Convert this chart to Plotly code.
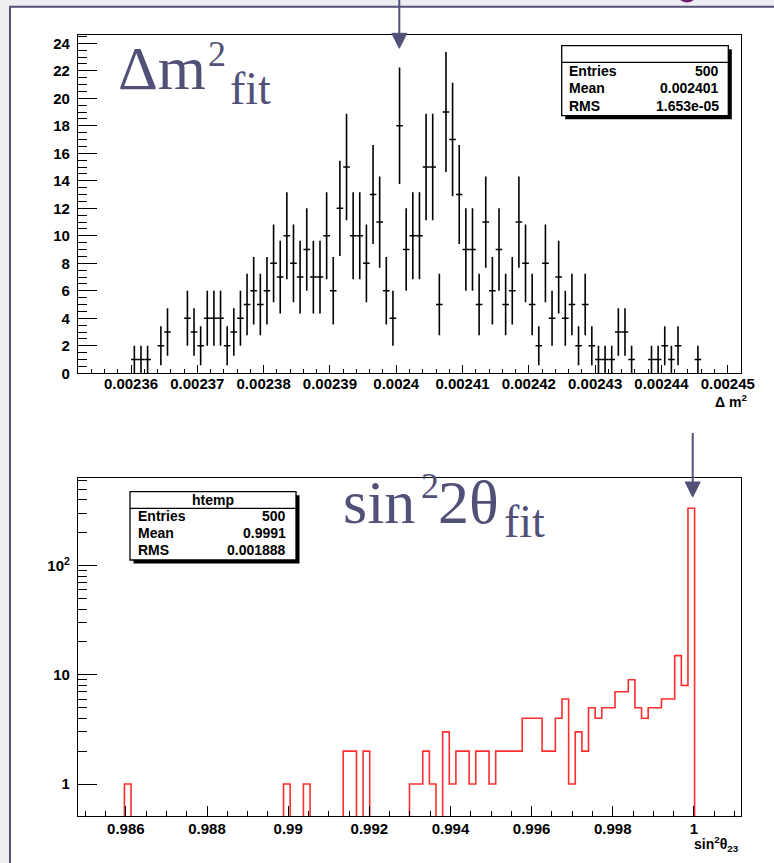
import numpy as np
import plotly.graph_objects as go

W, H = 774, 863

# ---------------- data: top histogram (Delta m^2 fit) ----------------
dm2_min, dm2_max, dm2_nbins = 0.002352, 0.002452, 100
dm2_counts = [0, 0, 0, 0, 0, 0, 0, 0, 1, 1,
              1, 0, 2, 3, 0, 0, 4, 3, 2, 4,
              4, 4, 2, 3, 4, 5, 6, 5, 6, 8,
              7, 10, 8, 7, 9, 7, 7, 10, 6, 12,
              15, 10, 10, 8, 13, 11, 6, 4, 18, 9,
              10, 10, 15, 15, 5, 19, 17, 13, 9, 9,
              5, 11, 6, 9, 5, 6, 11, 8, 5, 2,
              8, 4, 7, 4, 5, 2, 5, 2, 1, 1,
              1, 3, 3, 1, 0, 0, 1, 1, 2, 1,
              2, 0, 0, 1, 0, 0, 0, 0, 0, 0]
dm2_xtick_vals = [0.00236, 0.00237, 0.00238, 0.00239, 0.0024,
                  0.00241, 0.00242, 0.00243, 0.00244, 0.00245]
dm2_xtick_text = ["0.00236", "0.00237", "0.00238", "0.00239", "0.0024",
                  "0.00241", "0.00242", "0.00243", "0.00244", "0.00245"]
dm2_ytick_vals = [0, 2, 4, 6, 8, 10, 12, 14, 16, 18, 20, 22, 24]
dm2_stats = [("Entries", "500"), ("Mean", "0.002401"), ("RMS", "1.653e-05")]

# ---------------- data: bottom histogram (sin^2 2theta fit) ----------------
s2_min, s2_max, s2_nbins = 0.98482, 1.00116, 100
s2_counts = [0, 0, 0, 0, 0, 0, 0, 1, 0, 0,
             0, 0, 0, 0, 0, 0, 0, 0, 0, 0,
             0, 0, 0, 0, 0, 0, 0, 0, 0, 0,
             0, 1, 0, 0, 1, 0, 0, 0, 0, 0,
             2, 2, 0, 2, 0, 0, 0, 0, 0, 0,
             1, 1, 2, 1, 0, 3, 1, 2, 2, 1,
             2, 2, 1, 2, 2, 2, 2, 4, 4, 4,
             2, 2, 4, 6, 1, 3, 2, 5, 4, 5,
             5, 7, 7, 9, 5, 4, 5, 5, 6, 6,
             15, 8, 336, 0, 0, 0, 0, 0, 0, 0]
s2_xtick_vals = [0.986, 0.988, 0.99, 0.992, 0.994, 0.996, 0.998, 1.0]
s2_xtick_text = ["0.986", "0.988", "0.99", "0.992", "0.994", "0.996", "0.998", "1"]
s2_ytick_vals = [1, 10, 100]
s2_ytick_text = ["1", "10", "10<sup>2</sup>"]
s2_yminor_vals = [2, 3, 4, 5, 6, 7, 8, 9, 20, 30, 40, 50, 60, 70, 80, 90,
                  200, 300, 400, 500, 600]
s2_stats = [("Entries", "500"), ("Mean", "0.9991"), ("RMS", "0.001888")]

# ---------------- helpers ----------------
def px(x):
    return x / W

def py(y):
    return 1 - y / H

SLATE = "#515178"
TICKFONT = dict(family="Liberation Sans", size=15, color="black", weight="bold")

fig = go.Figure()

# top histogram: error bars (E0 style)
c1 = np.array(dm2_counts, dtype=float)
bw1 = (dm2_max - dm2_min) / dm2_nbins
centers1 = dm2_min + (np.arange(dm2_nbins) + 0.5) * bw1
m = c1 > 0
fig.add_trace(go.Scatter(
    x=centers1[m], y=c1[m], mode="markers",
    marker=dict(size=1, color="black"),
    error_y=dict(type="data", array=np.sqrt(c1[m]), width=0, thickness=1.6, color="black"),
    error_x=dict(type="data", array=np.full(m.sum(), bw1 / 2), width=0, thickness=1.6, color="black"),
    xaxis="x", yaxis="y", showlegend=False, hoverinfo="skip"))

# bottom histogram: red step outline
c2 = np.array(s2_counts, dtype=float)
bw2 = (s2_max - s2_min) / s2_nbins
edges2 = s2_min + np.arange(s2_nbins + 1) * bw2
floor = 0.1
c2p = np.where(c2 > 0, c2, floor)
xs = np.concatenate([[edges2[0]], edges2[:-1], [edges2[-1]], [edges2[-1]]])
ys = np.concatenate([[floor], c2p, [c2p[-1]], [floor]])
fig.add_trace(go.Scatter(
    x=xs, y=ys, mode="lines", line=dict(color="#ff2d2d", width=1.6, shape="hv"),
    xaxis="x2", yaxis="y2", showlegend=False, hoverinfo="skip"))

axis_common = dict(showline=True, linecolor="black", linewidth=1.2, mirror=True,
                   showgrid=False, zeroline=False, ticks="inside", tickcolor="black",
                   tickwidth=1.2, tickfont=TICKFONT, automargin=False)

fig.update_layout(
    width=W, height=H, autosize=False, showlegend=False,
    margin=dict(l=0, r=0, t=0, b=0, pad=0, autoexpand=False),
    paper_bgcolor="#eeeef0", plot_bgcolor="white",
    xaxis=dict(domain=[px(78), px(741)], range=[dm2_min, dm2_max], anchor="y",
               tickmode="array", tickvals=dm2_xtick_vals, ticktext=dm2_xtick_text,
               ticklen=8, ticklabelstandoff=-3,
               minor=dict(ticks="inside", ticklen=4, dtick=2e-6, tick0=0.00236,
                          tickcolor="black", tickwidth=1.2),
               **axis_common),
    yaxis=dict(domain=[py(373.3), py(35)], range=[0, 24.6], anchor="x",
               tickmode="array", tickvals=dm2_ytick_vals, ticklen=19,
               ticklabelstandoff=4,
               minor=dict(ticks="inside", ticklen=9, dtick=0.5, tick0=0,
                          tickcolor="black", tickwidth=1.2),
               **axis_common),
    xaxis2=dict(domain=[px(78), px(741)], range=[s2_min, s2_max], anchor="y2",
                tickmode="array", tickvals=s2_xtick_vals, ticktext=s2_xtick_text,
                ticklen=10, ticklabelstandoff=-1,
                minor=dict(ticks="inside", ticklen=5, dtick=0.0005, tick0=0.986,
                           tickcolor="black", tickwidth=1.2),
                **axis_common),
    yaxis2=dict(domain=[py(816), py(478.3)], type="log", range=[-0.293, 2.80],
                anchor="x2", tickmode="array", tickvals=s2_ytick_vals,
                ticktext=s2_ytick_text, ticklen=19, ticklabelstandoff=4,
                minor=dict(ticks="inside", ticklen=9, tickmode="array",
                           tickvals=s2_yminor_vals, tickcolor="black", tickwidth=1.2),
                **axis_common),
)

shapes = []
annots = []

# slide background: white page with slate border on top and left
shapes.append(dict(type="rect", xref="paper", yref="paper", layer="below",
                   x0=px(10), x1=px(774), y0=py(863), y1=py(7),
                   fillcolor="white", line=dict(width=0)))
shapes.append(dict(type="line", xref="paper", yref="paper",
                   x0=px(9), x1=px(774), y0=py(6.8), y1=py(6.8),
                   line=dict(color=SLATE, width=2)))
shapes.append(dict(type="line", xref="paper", yref="paper",
                   x0=px(10), x1=px(10), y0=py(6), y1=py(863),
                   line=dict(color=SLATE, width=2)))
# bit of purple title glyph peeking at the top
shapes.append(dict(type="circle", xref="paper", yref="paper",
                   x0=px(679), x1=px(695), y0=py(2.5), y1=py(-9),
                   fillcolor="#6e1a6e", line=dict(width=0)))

# arrows
def arrow(x, y0, y1, half=7.5, head=15):
    shapes.append(dict(type="line", xref="paper", yref="paper",
                       x0=px(x), x1=px(x), y0=py(y0), y1=py(y1 - head + 2),
                       line=dict(color=SLATE, width=2)))
    path = "M {} {} L {} {} L {} {} Z".format(px(x - half), py(y1 - head),
                                             px(x + half), py(y1 - head),
                                             px(x), py(y1))
    shapes.append(dict(type="path", xref="paper", yref="paper", path=path,
                       fillcolor=SLATE, line=dict(color=SLATE, width=1)))

arrow(399.3, 0, 48.3)
arrow(692.7, 433, 497)

# stats boxes
def stats_box(x0, y0, x1, y1, ysep, title, rows, row_ys, tx_l, tx_r):
    sh = 3.5
    shapes.append(dict(type="rect", xref="paper", yref="paper",
                       x0=px(x0 + sh), x1=px(x1 + sh), y0=py(y1 + sh), y1=py(y0 + sh),
                       fillcolor="black", line=dict(width=0)))
    shapes.append(dict(type="rect", xref="paper", yref="paper",
                       x0=px(x0), x1=px(x1), y0=py(y1), y1=py(y0),
                       fillcolor="white", line=dict(color="black", width=1.3)))
    shapes.append(dict(type="line", xref="paper", yref="paper",
                       x0=px(x0), x1=px(x1), y0=py(ysep), y1=py(ysep),
                       line=dict(color="black", width=1.3)))
    f = dict(family="Liberation Sans", size=14, color="black", weight="bold")
    if title:
        annots.append(dict(xref="paper", yref="paper", x=px((x0 + x1) / 2),
                           y=py((y0 + ysep) / 2), text=title, showarrow=False,
                           xanchor="center", yanchor="middle", font=f))
    for (k, v), yy in zip(rows, row_ys):
        annots.append(dict(xref="paper", yref="paper", x=px(tx_l), y=py(yy),
                           text=k, showarrow=False, xanchor="left",
                           yanchor="middle", font=f))
        annots.append(dict(xref="paper", yref="paper", x=px(tx_r), y=py(yy),
                           text=v, showarrow=False, xanchor="right",
                           yanchor="middle", font=f))

stats_box(561.7, 45.7, 728.3, 115.7, 62.3, "", dm2_stats, [71, 88.3, 106], 567, 721)
stats_box(130, 491.7, 296, 560, 508.3, "htemp", s2_stats, [516, 532.7, 550], 136, 288)

# big serif labels
def serif(text, x, y, size):
    annots.append(dict(xref="paper", yref="paper", x=px(x), y=py(y), text=text,
                       showarrow=False, xanchor="left", yanchor="middle",
                       font=dict(family="Liberation Serif", size=size, color=SLATE)))

serif("Δm", 116, 68, 62)
serif("2", 206, 54, 36)
serif("fit", 228, 89, 46)

serif("sin", 341, 502, 62)
serif("2", 419, 486, 36)
serif("2θ", 436, 502, 62)
serif("fit", 502, 521, 46)

# axis titles
tf = dict(family="Liberation Sans", size=14, color="black", weight="bold")
annots.append(dict(xref="paper", yref="paper", x=px(749), y=py(401),
                   text="Δ m<sup>2</sup>", showarrow=False, xanchor="right",
                   yanchor="middle", font=tf))
annots.append(dict(xref="paper", yref="paper", x=px(741), y=py(844),
                   text="sin<sup>2</sup>θ<sub>23</sub>", showarrow=False, xanchor="right",
                   yanchor="middle", font=tf))

fig.update_layout(shapes=shapes, annotations=annots)
fig.write_html("out.html")
